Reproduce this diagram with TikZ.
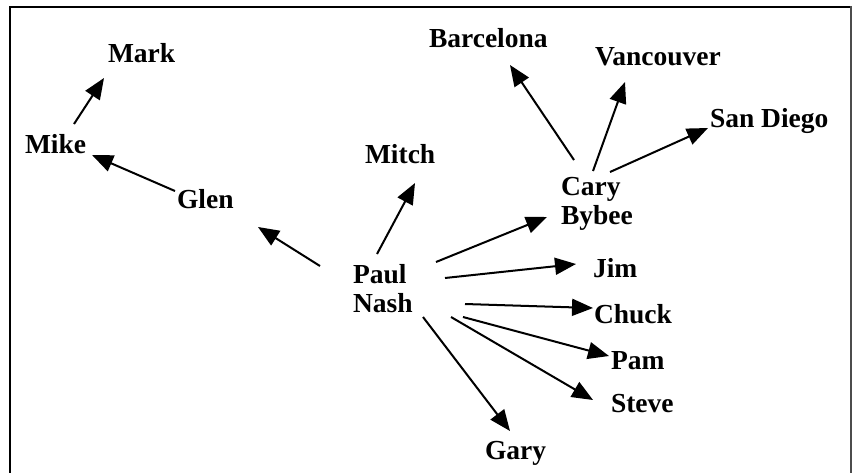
\documentclass[tikz,border=0pt]{standalone}
\usepackage{fontspec}
\setmainfont{Liberation Serif}
\usetikzlibrary{arrows.meta}
\tikzset{
  lbl/.style={anchor=base west, inner sep=0pt, outer sep=0pt,
    font=\bfseries\fontsize{27.5}{29.5}\selectfont},
  arr/.style={line width=2pt, -{Triangle[length=21pt,width=17pt]}},
  frame/.style={line width=2pt}
}
\newcommand{\twoline}[2]{\begin{tabular}[t]{@{}l@{}}#1\\#2\end{tabular}}
\begin{document}
\begin{tikzpicture}[x=1pt,y=-1pt]
\useasboundingbox (0,0) rectangle (853,472);
\draw[frame] (9.8,473) -- (9.8,6.8) -- (851,6.8);
\draw[frame,black!70] (851,5.8) -- (851,473);

\node[lbl] (mark)  at (108,62)  {Mark};
\node[lbl] (mike)  at (25,153)  {Mike};
\node[lbl] (glen)  at (177,208) {Glen};
\node[lbl] (mitch) at (365,163) {Mitch};
\node[lbl] (barc)  at (429,47)  {Barcelona};
\node[lbl] (vanc)  at (595,65)  {Vancouver};
\node[lbl] (sand)  at (710,127) {San Diego};
\node[lbl] (cary)  at (561,195) {\twoline{Cary}{Bybee}};
\node[lbl] (jim)   at (593,277) {Jim};
\node[lbl] (chuck) at (594,323) {Chuck};
\node[lbl] (pam)   at (611,369) {Pam};
\node[lbl] (steve) at (611,412) {Steve};
\node[lbl] (gary)  at (485,459) {Gary};
\node[lbl] (paul)  at (353,283) {\twoline{Paul}{Nash}};

\draw[arr] ([shift={(49,-29)}]mike.base west) -- ([shift={(-4,16)}]mark.base west);
\draw[arr] ([shift={(-2,-17)}]glen.base west) -- ([shift={(67,2)}]mike.base west);
\draw[arr] ([shift={(-33,-17)}]paul.base west) -- ([shift={(81,19)}]glen.base west);
\draw[arr] ([shift={(24,-29)}]paul.base west) -- ([shift={(50,20)}]mitch.base west);
\draw[arr] ([shift={(13,-35)}]cary.base west) -- ([shift={(81,18)}]barc.base west);
\draw[arr] ([shift={(32,-24)}]cary.base west) -- ([shift={(30,17)}]vanc.base west);
\draw[arr] ([shift={(49,-23)}]cary.base west) -- ([shift={(-2,1)}]sand.base west);
\draw[arr] ([shift={(83,-21)}]paul.base west) -- ([shift={(-14,22)}]cary.base west);
\draw[arr] ([shift={(92,-5)}]paul.base west) -- ([shift={(-17,-13)}]jim.base west);
\draw[arr] ([shift={(112,21)}]paul.base west) -- ([shift={(-1,-15)}]chuck.base west);
\draw[arr] ([shift={(110,34)}]paul.base west) -- ([shift={(-2,-13)}]pam.base west);
\draw[arr] ([shift={(98,34)}]paul.base west) -- ([shift={(-18,-12)}]steve.base west);
\draw[arr] ([shift={(70,34)}]paul.base west) -- ([shift={(25,-28)}]gary.base west);
\end{tikzpicture}
\end{document}
